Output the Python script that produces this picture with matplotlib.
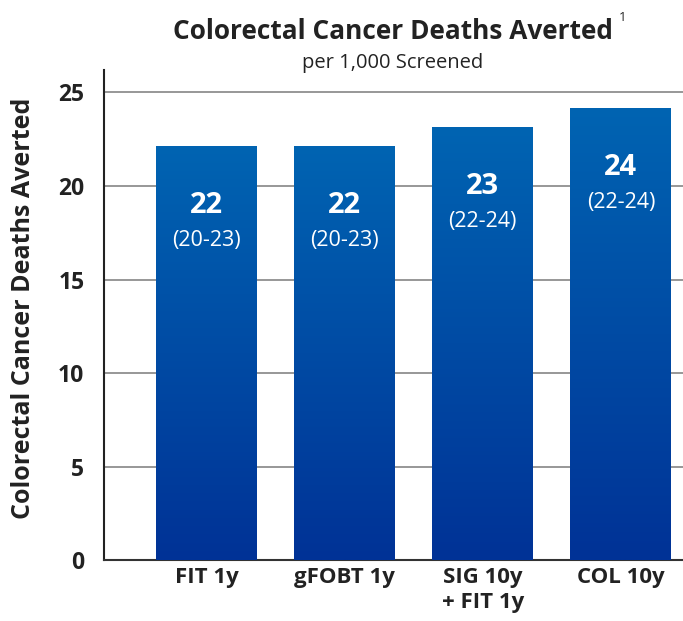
import numpy as np
import matplotlib.pyplot as plt
from matplotlib.colors import LinearSegmentedColormap

plt.rcParams['font.family'] = ['Open Sans', 'DejaVu Sans']

CATEGORIES = ["FIT 1y", "gFOBT 1y", "SIG 10y\n+ FIT 1y", "COL 10y"]
VALUES = [22.15, 22.15, 23.17, 24.18]
LABELS = ["22", "22", "23", "24"]
RANGES = ["(20-23)", "(20-23)", "(22-24)", "(22-24)"]
YTICKS = [0, 5, 10, 15, 20, 25]

TOP_COLOR = "#0064b2"
BOTTOM_COLOR = "#003296"
cmap = LinearSegmentedColormap.from_list("bar", [BOTTOM_COLOR, TOP_COLOR])

fig = plt.figure(figsize=(6.83, 6.21), dpi=100)
ax = fig.add_axes([0.152, 0.0982, 0.848, 0.789])

x = np.arange(len(CATEGORIES))
width = 0.73
bars = ax.bar(x, VALUES, width=width, color="none", zorder=3)

grad = np.linspace(0, 1, 256).reshape(-1, 1)
for bar in bars:
    bx, by = bar.get_x(), bar.get_y()
    bw, bh = bar.get_width(), bar.get_height()
    im = ax.imshow(grad, cmap=cmap, origin="lower", aspect="auto",
                   extent=[bx, bx + bw, by, by + bh], zorder=3)
    im.set_clip_path(bar)

for xi, v, lab, rng in zip(x, VALUES, LABELS, RANGES):
    ax.annotate(lab, (xi, v), xytext=(0, -60), textcoords="offset pixels",
                ha="center", va="center", color="white", fontsize=21,
                fontweight="bold", zorder=4)
    ax.annotate(rng, (xi, v), xytext=(0, -95), textcoords="offset pixels",
                ha="center", va="center", color="white", fontsize=15.5, zorder=4)

ax.set_xlim(-0.743, 3.45)
ax.set_ylim(0, 26.2)
ax.set_yticks(YTICKS)
ax.set_yticklabels([str(t) for t in YTICKS], fontsize=16.5, fontweight="bold",
                   color="#222222")
ax.set_xticks(x)
ax.set_xticklabels(CATEGORIES, fontsize=16, fontweight="bold", color="#222222",
                   va="top", linespacing=1.25)
ax.tick_params(axis="both", length=0)
ax.tick_params(axis="y", pad=14)
ax.tick_params(axis="x", pad=5)

ax.grid(axis="y", color="#7a7a7a", linewidth=1.1, zorder=0)
ax.set_axisbelow(True)
for side in ["top", "right"]:
    ax.spines[side].set_visible(False)
ax.spines["left"].set_color("#222222")
ax.spines["bottom"].set_color("#333333")
ax.spines["left"].set_linewidth(1.5)
ax.spines["bottom"].set_linewidth(1.5)

fig.text(0.034, 0.503, "Colorectal Cancer Deaths Averted", rotation=90,
         ha="center", va="center", fontsize=18, fontweight="bold", color="#222222")

fig.text(0.575, 0.950, "Colorectal Cancer Deaths Averted", ha="center",
         va="center", fontsize=18.9, fontweight="bold", color="#222222")
fig.text(0.906, 0.972, "1", ha="left", va="center", fontsize=9.5, color="#222222")
fig.text(0.575, 0.899, "per 1,000 Screened", ha="center", va="center",
         fontsize=14.5, color="#222222")

fig.savefig("out.png", dpi=100)
